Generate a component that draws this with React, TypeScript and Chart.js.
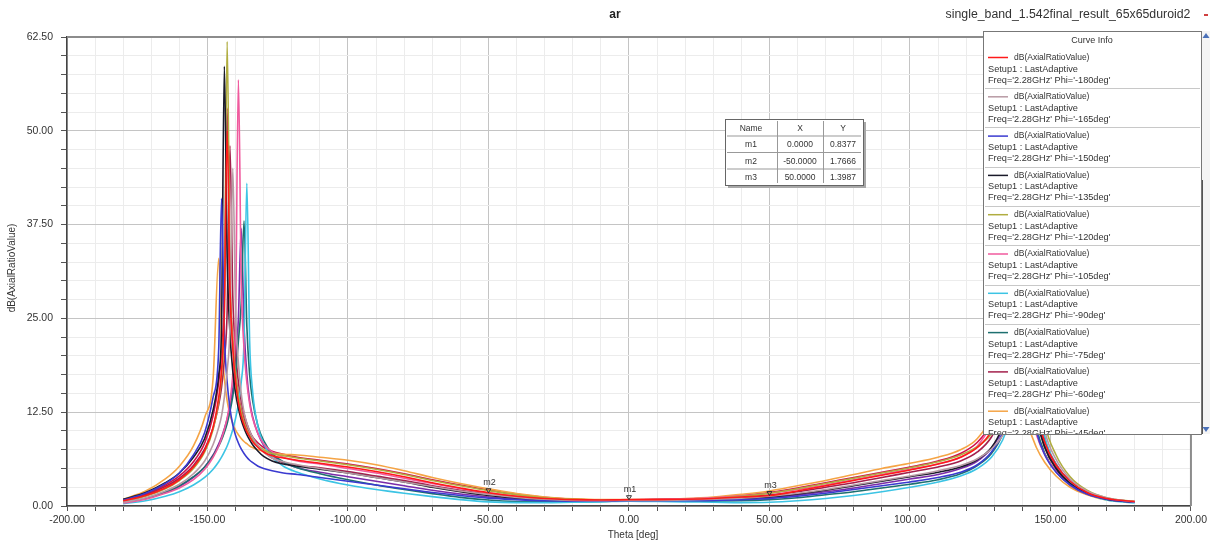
import React, { useEffect, useRef } from 'react';
import { Chart, registerables } from 'chart.js';

Chart.register(...registerables);

// Theta sample points (deg)
const theta = [-180,-172,-165,-160,-155,-151,-148,-146,-145,-144,-143,-142,-141,-140,-139,-138,-137,-136,-135,-134,-132,-130,-127,-123,-118,-110,-100,-90,-80,-70,-60,-50,-40,-30,-20,-10,0,10,20,30,40,50,60,70,80,90,100,110,118,124,129,133,136,139,142,145,148,152,157,163,170,180];

// Phi values of the curves
const phiLabels = ['-180deg','-165deg','-150deg','-135deg','-120deg','-105deg','-90deg','-75deg','-60deg','-45deg','-30deg','-15deg'];
const curveColors = ['#ff1a1a','#b89aa4','#3a3ad0','#1a1a2a','#b0ad40','#f05a9e','#3cc4e4','#1e7070','#a3204c','#f5a445','#7a2ca8','#d0104a'];

// dB(AxialRatioValue) per phi
const arPhiM180 = [0.7,1.4,2.4,3.5,5.2,7.4,10.5,14.5,18,26,50,29,21,16.5,13.8,12,10.8,9.9,9.2,8.6,7.8,7.2,6.7,6.4,6.1,5.7,5.2,4.6,3.9,3.1,2.4,1.77,1.3,1.0,0.85,0.8,0.84,0.85,0.9,1.0,1.2,1.4,2.0,2.7,3.4,4.1,4.8,5.6,6.5,7.8,10,14,20,40,24,13,8.5,5.5,3.3,1.8,1.0,0.6];
const arPhiM165 = [0.5,1.1,2.0,2.9,4.3,6.0,8.2,10.5,12,14.5,18,24,45,26,19,15,12.5,11,10,9.2,8.0,7.2,6.4,5.9,5.5,5.0,4.4,3.8,3.2,2.6,2.0,1.55,1.15,0.9,0.75,0.7,0.75,0.75,0.8,0.9,1.05,1.3,1.7,2.2,2.8,3.4,4.0,4.7,5.4,6.3,7.6,9.4,11.5,16,35,17,10,6.2,3.6,2.0,1.1,0.55];
const arPhiM150 = [0.8,1.7,3.0,4.4,6.8,9.8,14.5,21,41,23,16.5,13,10.8,9.4,8.4,7.6,7.0,6.5,6.1,5.8,5.3,5.0,4.7,4.4,4.2,3.8,3.3,2.8,2.3,1.8,1.4,1.05,0.85,0.7,0.65,0.65,0.7,0.7,0.7,0.75,0.85,1.0,1.3,1.7,2.2,2.7,3.2,3.8,4.5,5.5,7.2,9.8,14,30,17,10,6.8,4.5,2.8,1.6,0.9,0.5];
const arPhiM135 = [0.9,1.8,3.1,4.4,6.5,9.0,12.8,17.5,24,58.6,33,23,18,15,13,11.5,10.4,9.5,8.8,8.2,7.3,6.6,6.0,5.6,5.3,4.9,4.4,3.8,3.2,2.5,1.9,1.4,1.05,0.85,0.75,0.7,0.8,0.8,0.8,0.85,1.0,1.2,1.6,2.1,2.7,3.3,3.9,4.5,5.2,6.2,7.8,10.5,15,45,22,12,7.8,5.0,3.0,1.7,0.9,0.5];
const arPhiM120 = [0.6,1.3,2.3,3.4,5.0,7.2,10.2,14,17.5,26,61.9,31,22,17.5,14.6,12.6,11.2,10.2,9.4,8.8,8.0,7.5,7.0,6.7,6.4,6.0,5.5,4.9,4.2,3.4,2.7,2.05,1.5,1.1,0.9,0.8,0.8,0.8,0.85,1.0,1.3,1.7,2.3,3.0,3.7,4.4,5.1,5.9,6.8,7.9,9.6,12,15.5,22,50,19,11,6.8,3.9,2.1,1.1,0.6];
const arPhiM105 = [0.4,0.9,1.7,2.4,3.5,4.9,6.5,8.0,9.0,10.2,11.7,14,17.5,25,56.8,30,21,16.5,13.6,11.8,9.6,8.3,7.2,6.5,6.0,5.6,5.0,4.4,3.7,3.0,2.3,1.75,1.3,1.0,0.8,0.75,0.8,0.85,0.95,1.1,1.35,1.7,2.2,2.8,3.5,4.2,4.9,5.6,6.5,8.0,10.8,15.5,40,21,13.5,9.5,6.8,4.6,2.8,1.6,0.9,0.5];
const arPhiM90 = [0.3,0.7,1.3,1.9,2.8,3.8,4.9,5.9,6.5,7.2,8.0,9.0,10.2,11.7,13.6,16.5,22,43,22,15.5,10.5,8.3,6.5,5.3,4.5,3.6,2.8,2.2,1.7,1.25,0.85,0.55,0.45,0.45,0.5,0.55,0.65,0.6,0.55,0.5,0.45,0.5,0.7,1.0,1.4,1.9,2.5,3.2,4.0,5.0,6.5,8.8,12,18,35,16,9.2,5.6,3.2,1.7,0.8,0.4];
const arPhiM75 = [0.5,1.0,1.9,2.7,3.9,5.2,6.7,8.0,8.8,9.8,11,12.6,14.6,17.5,22,27,38,24,17.5,14.2,10.6,8.7,7.0,5.9,5.1,4.3,3.5,2.8,2.2,1.65,1.15,0.8,0.6,0.55,0.55,0.6,0.7,0.7,0.65,0.65,0.7,0.85,1.1,1.5,1.9,2.4,2.9,3.5,4.3,5.4,7.0,9.6,13.5,28,17,10.5,7.0,4.6,2.8,1.6,0.9,0.5];
const arPhiM60 = [0.7,1.5,2.6,3.7,5.4,7.6,10.4,13.5,15.8,19.5,26,48,28,20.5,16.5,14,12.3,11,10,9.2,8.0,7.2,6.4,5.8,5.4,5.1,4.6,4.0,3.4,2.7,2.1,1.6,1.2,0.95,0.8,0.75,0.8,0.85,0.9,1.0,1.15,1.45,1.9,2.5,3.1,3.8,4.5,5.2,6.0,7.2,9.2,12.5,18,42,22,12.5,8.0,5.2,3.1,1.8,1.0,0.6];
const arPhiM45 = [0.9,2.0,3.6,5.3,8.0,11.8,17,33,22,17,14,12.2,11,10.1,9.5,9.0,8.6,8.3,8.0,7.8,7.5,7.3,7.1,6.9,6.8,6.5,6.1,5.5,4.7,3.8,3.0,2.3,1.65,1.2,0.95,0.85,0.85,0.9,1.0,1.2,1.55,2.0,2.7,3.4,4.2,5.0,5.7,6.5,7.5,9.0,12,17.5,30,17,11,7.8,5.8,4.0,2.5,1.5,0.8,0.5];
const arPhiM30 = [0.5,1.0,1.8,2.6,3.8,5.2,6.8,8.3,9.2,10.3,11.6,13.3,15.6,19,25,37,24,17.5,14,12,9.6,8.1,6.8,5.8,5.1,4.5,3.9,3.3,2.7,2.1,1.6,1.2,0.9,0.75,0.7,0.7,0.75,0.75,0.75,0.8,0.9,1.1,1.45,1.9,2.4,3.0,3.6,4.2,5.0,6.0,7.7,10.2,13.5,19,32,15.5,9.0,5.6,3.3,1.8,1.0,0.5];
const arPhiM15 = [0.8,1.6,2.8,4.0,5.9,8.4,12,16.5,20.5,28,53,30,22,17.5,14.8,12.9,11.6,10.6,9.8,9.2,8.4,7.8,7.3,6.9,6.5,6.1,5.6,5.0,4.3,3.5,2.8,2.15,1.6,1.15,0.9,0.8,0.85,0.9,0.95,1.1,1.4,1.8,2.4,3.1,3.8,4.5,5.2,6.0,7.0,8.5,11,15,21,38,21,12,7.8,5.0,3.0,1.7,0.9,0.5];

const seriesValues = [arPhiM180,arPhiM165,arPhiM150,arPhiM135,arPhiM120,arPhiM105,arPhiM90,arPhiM75,arPhiM60,arPhiM45,arPhiM30,arPhiM15];

// Markers
const markerNames = ['m1','m2','m3'];
const markerX = [0, -50, 50];
const markerY = [0.8377, 1.7666, 1.3987];

// Texts
const chartTitle = 'ar';
const projectName = 'single_band_1.542final_result_65x65duroid2';
const xTitle = 'Theta [deg]';
const yTitle = 'dB(AxialRatioValue)';
const curveExpr = 'dB(AxialRatioValue)';
const setupName = 'Setup1 : LastAdaptive';
const freqLabel = "2.28GHz";
const legendVisibleCount = 10;

const FONT = '"Liberation Sans", Arial, sans-serif';

const overlayPlugin = {
  id: 'hfssOverlay',
  afterDraw(chart: any) {
    const ctx: CanvasRenderingContext2D = chart.ctx;
    const { left, right, top, bottom } = chart.chartArea;
    const xs = chart.scales.x;
    const ys = chart.scales.y;
    ctx.save();

    // frame top/right
    ctx.strokeStyle = '#8c8c8c';
    ctx.lineWidth = 2;
    ctx.beginPath();
    ctx.moveTo(left, top);
    ctx.lineTo(right, top);
    ctx.lineTo(right, bottom);
    ctx.stroke();

    // titles
    ctx.fillStyle = '#222';
    ctx.textAlign = 'center';
    ctx.textBaseline = 'middle';
    ctx.font = `bold 12px ${FONT}`;
    ctx.fillText(chartTitle, 615, 15);
    ctx.font = `12.3px ${FONT}`;
    ctx.fillStyle = '#333';
    ctx.fillText(projectName, 1068, 15);
    ctx.fillStyle = '#d04040';
    ctx.fillRect(1204, 14, 4, 2);

    ctx.fillStyle = '#333';
    ctx.font = `10px ${FONT}`;
    ctx.fillText(xTitle, 633, 535);
    ctx.save();
    ctx.translate(12, 268);
    ctx.rotate(-Math.PI / 2);
    ctx.fillText(yTitle, 0, 0);
    ctx.restore();

    // markers on curves
    for (let i = 0; i < markerNames.length; i++) {
      const px = xs.getPixelForValue(markerX[i]);
      const py = ys.getPixelForValue(markerY[i]);
      ctx.strokeStyle = '#333';
      ctx.lineWidth = 1;
      ctx.beginPath();
      ctx.moveTo(px - 2.5, py - 4);
      ctx.lineTo(px + 2.5, py - 4);
      ctx.lineTo(px, py);
      ctx.closePath();
      ctx.stroke();
      ctx.fillStyle = '#333';
      ctx.font = `9px ${FONT}`;
      ctx.textAlign = 'center';
      ctx.fillText(markerNames[i], px + 1, py - 10);
    }

    // marker table
    const tx0 = 725, tx1 = 863, ty0 = 119, rowH = 16.5;
    const cols = [tx0, 777, 823, tx1];
    const nRows = markerNames.length + 1;
    const ty1 = ty0 + rowH * nRows;
    ctx.fillStyle = '#a8a8a8';
    ctx.fillRect(tx0 + 3, ty0 + 3, tx1 - tx0, ty1 - ty0);
    ctx.fillStyle = '#ffffff';
    ctx.fillRect(tx0, ty0, tx1 - tx0, ty1 - ty0);
    ctx.strokeStyle = '#666';
    ctx.lineWidth = 1;
    ctx.strokeRect(tx0 + 0.5, ty0 + 0.5, tx1 - tx0, ty1 - ty0);
    ctx.strokeStyle = '#999';
    for (let r = 1; r < nRows; r++) {
      ctx.beginPath();
      ctx.moveTo(tx0 + 2, ty0 + r * rowH + 0.5);
      ctx.lineTo(tx1 - 2, ty0 + r * rowH + 0.5);
      ctx.stroke();
    }
    for (let c = 1; c < 3; c++) {
      ctx.beginPath();
      ctx.moveTo(cols[c] + 0.5, ty0 + 2);
      ctx.lineTo(cols[c] + 0.5, ty1 - 2);
      ctx.stroke();
    }
    ctx.fillStyle = '#333';
    ctx.font = `8.5px ${FONT}`;
    ctx.textAlign = 'center';
    const header = ['Name', 'X', 'Y'];
    for (let c = 0; c < 3; c++) {
      ctx.fillText(header[c], (cols[c] + cols[c + 1]) / 2, ty0 + rowH / 2 + 1);
    }
    for (let r = 0; r < markerNames.length; r++) {
      const cy = ty0 + (r + 1) * rowH + rowH / 2 + 1;
      ctx.fillText(markerNames[r], (cols[0] + cols[1]) / 2, cy);
      ctx.fillText(markerX[r].toFixed(4), (cols[1] + cols[2]) / 2, cy);
      ctx.fillText(markerY[r].toFixed(4), (cols[2] + cols[3]) / 2, cy);
    }

    // legend box
    const lx0 = 983, lx1 = 1201, ly0 = 31, ly1 = 434;
    ctx.fillStyle = '#ffffff';
    ctx.fillRect(lx0, ly0, lx1 - lx0, ly1 - ly0);
    ctx.strokeStyle = '#777';
    ctx.lineWidth = 1;
    ctx.strokeRect(lx0 + 0.5, ly0 + 0.5, lx1 - lx0, ly1 - ly0);
    // scrollbar
    ctx.fillStyle = '#f4f4f4';
    ctx.fillRect(lx1 + 1, ly0, 8, ly1 - ly0);
    ctx.strokeStyle = '#555';
    ctx.beginPath();
    ctx.moveTo(lx1 + 1.5, 180);
    ctx.lineTo(lx1 + 1.5, ly1);
    ctx.stroke();
    ctx.fillStyle = '#4a70b8';
    ctx.beginPath();
    ctx.moveTo(lx1 + 5, ly0 + 2);
    ctx.lineTo(lx1 + 8.5, ly0 + 7);
    ctx.lineTo(lx1 + 1.5, ly0 + 7);
    ctx.closePath();
    ctx.fill();
    ctx.beginPath();
    ctx.moveTo(lx1 + 5, ly1 - 2);
    ctx.lineTo(lx1 + 8.5, ly1 - 7);
    ctx.lineTo(lx1 + 1.5, ly1 - 7);
    ctx.closePath();
    ctx.fill();

    ctx.fillStyle = '#333';
    ctx.font = `9px ${FONT}`;
    ctx.textAlign = 'center';
    ctx.fillText('Curve Info', 1092, 41);

    ctx.save();
    ctx.beginPath();
    ctx.rect(lx0 + 1, ly0 + 1, lx1 - lx0 - 1, ly1 - ly0 - 1);
    ctx.clip();
    for (let k = 0; k < legendVisibleCount; k++) {
      const base = 57.5 + 39.3 * k;
      ctx.strokeStyle = curveColors[k];
      ctx.lineWidth = 1.5;
      ctx.beginPath();
      ctx.moveTo(988, base);
      ctx.lineTo(1008, base);
      ctx.stroke();
      ctx.fillStyle = '#333';
      ctx.textAlign = 'left';
      ctx.font = `8.5px ${FONT}`;
      ctx.fillText(curveExpr, 1014, base);
      ctx.font = `9.2px ${FONT}`;
      ctx.fillText(setupName, 988, base + 11.5);
      ctx.fillText(`Freq='${freqLabel}' Phi='${phiLabels[k]}'`, 988, base + 22.5);
      ctx.strokeStyle = '#c8c8c8';
      ctx.lineWidth = 1;
      ctx.beginPath();
      ctx.moveTo(lx0 + 2, Math.round(base + 30.5) + 0.5);
      ctx.lineTo(lx1 - 1, Math.round(base + 30.5) + 0.5);
      ctx.stroke();
    }
    ctx.restore();

    ctx.restore();
  },
};

export default function App() {
  const canvasRef = useRef<HTMLCanvasElement | null>(null);

  useEffect(() => {
    document.body.style.margin = '0';
    const canvas = canvasRef.current;
    if (!canvas) return;

    const datasets = seriesValues.map((vals, i) => ({
      label: `Phi='${phiLabels[i]}'`,
      data: theta.map((t, j) => ({ x: t, y: vals[j] })),
      borderColor: curveColors[i],
      backgroundColor: curveColors[i],
      borderWidth: 1.6,
      pointRadius: 0,
      fill: false,
      cubicInterpolationMode: 'monotone' as const,
    }));

    const isMult = (v: number, m: number) => Math.abs(v / m - Math.round(v / m)) < 1e-6;

    const chart = new Chart(canvas, {
      type: 'line',
      data: { datasets },
      plugins: [overlayPlugin],
      options: {
        responsive: false,
        animation: false,
        events: [],
        layout: { padding: { left: 0, top: 37, right: 10, bottom: 0 } },
        plugins: {
          legend: { display: false },
          tooltip: { enabled: false },
          title: { display: false },
        },
        scales: {
          x: {
            type: 'linear',
            min: -200,
            max: 200,
            afterFit: (s: any) => { s.height = 36; },
            ticks: {
              stepSize: 10,
              autoSkip: false,
              maxRotation: 0,
              padding: 3,
              color: '#333',
              font: { family: FONT, size: 10.5 },
              callback: (v: any) => (isMult(Number(v), 50) ? Number(v).toFixed(2) : ''),
            },
            grid: {
              color: (c: any) => (c.tick && isMult(c.tick.value, 50) ? '#c4c4c4' : '#ececec'),
              tickColor: '#555',
              tickLength: 5,
              lineWidth: 1,
            },
            border: { display: true, color: '#444', width: 1.5 },
          },
          y: {
            type: 'linear',
            min: 0,
            max: 62.5,
            afterFit: (s: any) => { s.width = 67; },
            ticks: {
              stepSize: 2.5,
              autoSkip: false,
              padding: 8,
              color: '#333',
              font: { family: FONT, size: 10.5 },
              callback: (v: any) => (isMult(Number(v), 12.5) ? Number(v).toFixed(2) : ''),
            },
            grid: {
              color: (c: any) => (c.tick && isMult(c.tick.value, 12.5) ? '#c4c4c4' : '#ececec'),
              tickColor: '#555',
              tickLength: 6,
              lineWidth: 1,
            },
            border: { display: true, color: '#444', width: 1.5 },
          },
        },
      },
    });

    return () => chart.destroy();
  }, []);

  return (
    <div style={{ width: 1210, height: 542, background: '#fff' }}>
      <canvas ref={canvasRef} width={1210} height={542} style={{ display: 'block', width: 1210, height: 542 }} />
    </div>
  );
}
